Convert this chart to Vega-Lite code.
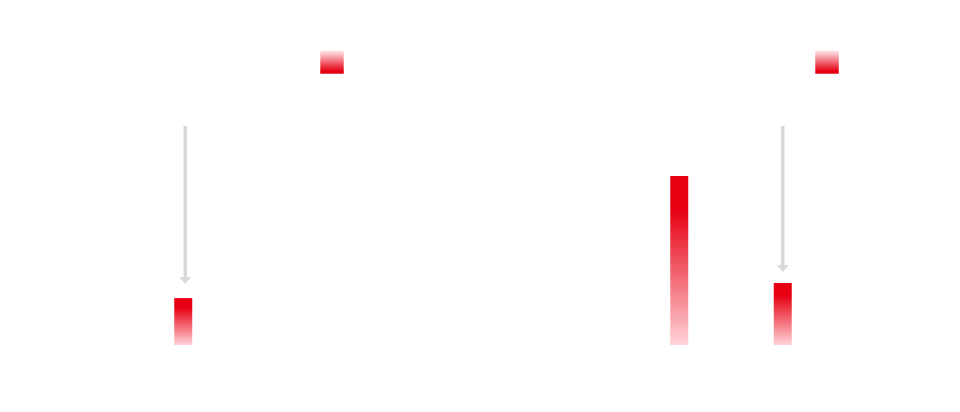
{
  "$schema": "https://vega.github.io/schema/vega-lite/v6.json",
  "padding": 0,
  "spacing": 0,
  "background": "#ffffff",
  "config": {"view": {"stroke": null}},
  "resolve": {"scale": {"opacity": "independent"}, "legend": {"opacity": "independent"}},
  "datasets": {
    "leftBars": [{"series": "S", "category": "B", "value": 13.6}],
    "leftArrow": [{"category": "B", "start": 63.5, "shaftEnd": 19.7, "tip": 18.7}],
    "rightBars": [
      {"series": "S", "category": "A", "value": 49},
      {"series": "S", "category": "B", "value": 18}
    ],
    "rightArrow": [{"category": "B", "start": 63.5, "shaftEnd": 23.2, "tip": 22.2}],
    "legendSeries": []
  },
  "hconcat": [
    {
      "width": 480,
      "height": 345,
      "encoding": {
        "x": {"field": "category", "type": "nominal", "scale": {"domain": ["A", "B"], "range": [28, 235], "paddingInner": 0, "paddingOuter": 0}, "axis": null}
      },
      "layer": [
        {
          "data": {"name": "leftBars"},
          "mark": {"type": "bar", "width": 18, "fill": {"gradient": "linear", "x1": 0, "y1": 0, "x2": 0, "y2": 1, "stops": [{"offset": 0, "color": "#e60012"}, {"offset": 0.2, "color": "#e60012"}, {"offset": 1, "color": "#ffd3d8"}]}},
          "encoding": {
            "y": {"field": "value", "type": "quantitative", "scale": {"domain": [0, 100]}, "axis": null}
          }
        },
        {
          "data": {"name": "legendSeries"},
          "mark": {"type": "square", "strokeWidth": 0, "fill": {"gradient": "linear", "x1": 0, "y1": 0, "x2": 0, "y2": 1, "stops": [{"offset": 0, "color": "#ffeef1"}, {"offset": 0.88, "color": "#e60012"}, {"offset": 1, "color": "#e60012"}]}},
          "encoding": {
            "opacity": {"field": "series", "type": "nominal", "scale": {"domain": ["S"], "range": [1]}, "legend": {"orient": "none", "legendX": 320, "legendY": 50, "title": null, "padding": 0, "symbolType": "square", "symbolSize": 552, "symbolStrokeWidth": 0, "labelExpr": "''", "labelLimit": 1}}
          }
        },
        {
          "data": {"name": "leftArrow"},
          "mark": {"type": "rule", "color": "#d9d9d9", "strokeWidth": 3.5, "xOffset": 2},
          "encoding": {
            "y": {"field": "start", "type": "quantitative"},
            "y2": {"field": "shaftEnd"}
          }
        },
        {
          "data": {"name": "leftArrow"},
          "mark": {"type": "point", "shape": "M-1,-0.58L1,-0.58L0,0.58Z", "filled": true, "color": "#d9d9d9", "opacity": 1, "size": 144, "xOffset": 2},
          "encoding": {
            "y": {"field": "tip", "type": "quantitative"}
          }
        }
      ]
    },
    {
      "width": 480,
      "height": 345,
      "encoding": {
        "x": {"field": "category", "type": "nominal", "scale": {"domain": ["A", "B"], "range": [147.5, 354.5], "paddingInner": 0, "paddingOuter": 0}, "axis": null}
      },
      "layer": [
        {
          "data": {"name": "rightBars"},
          "mark": {"type": "bar", "width": 18, "fill": {"gradient": "linear", "x1": 0, "y1": 0, "x2": 0, "y2": 1, "stops": [{"offset": 0, "color": "#e60012"}, {"offset": 0.2, "color": "#e60012"}, {"offset": 1, "color": "#ffd3d8"}]}},
          "encoding": {
            "y": {"field": "value", "type": "quantitative", "scale": {"domain": [0, 100]}, "axis": null}
          }
        },
        {
          "data": {"name": "legendSeries"},
          "mark": {"type": "square", "strokeWidth": 0, "fill": {"gradient": "linear", "x1": 0, "y1": 0, "x2": 0, "y2": 1, "stops": [{"offset": 0, "color": "#ffeef1"}, {"offset": 0.88, "color": "#e60012"}, {"offset": 1, "color": "#e60012"}]}},
          "encoding": {
            "opacity": {"field": "series", "type": "nominal", "scale": {"domain": ["S"], "range": [1]}, "legend": {"orient": "none", "legendX": 335, "legendY": 50, "title": null, "padding": 0, "symbolType": "square", "symbolSize": 552, "symbolStrokeWidth": 0, "labelExpr": "''", "labelLimit": 1}}
          }
        },
        {
          "data": {"name": "rightArrow"},
          "mark": {"type": "rule", "color": "#d9d9d9", "strokeWidth": 3.5},
          "encoding": {
            "y": {"field": "start", "type": "quantitative"},
            "y2": {"field": "shaftEnd"}
          }
        },
        {
          "data": {"name": "rightArrow"},
          "mark": {"type": "point", "shape": "M-1,-0.58L1,-0.58L0,0.58Z", "filled": true, "color": "#d9d9d9", "opacity": 1, "size": 144},
          "encoding": {
            "y": {"field": "tip", "type": "quantitative"}
          }
        }
      ]
    }
  ]
}
